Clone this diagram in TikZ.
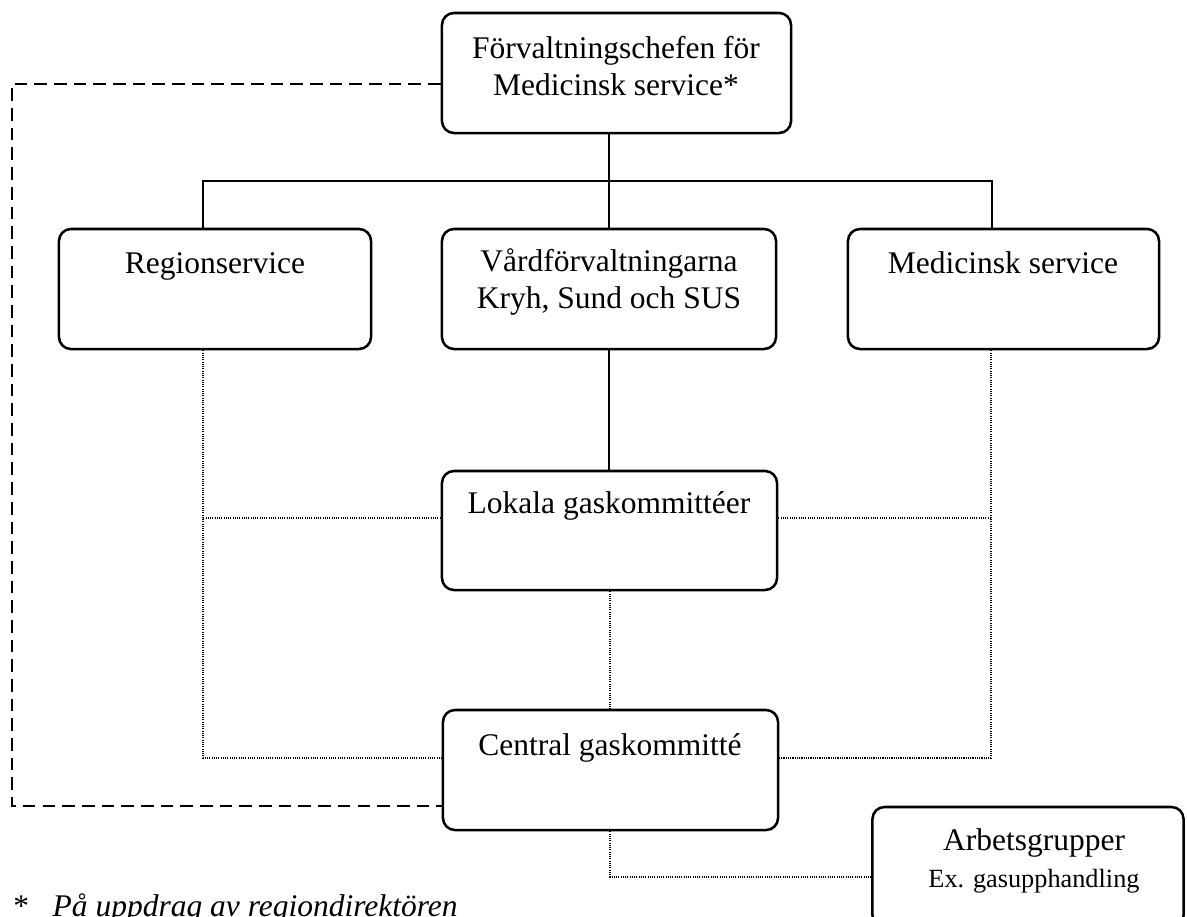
\documentclass[tikz,border=0pt]{standalone}
\usepackage{fontspec}
\setmainfont{Liberation Serif}
\usetikzlibrary{positioning,calc}
\tikzset{
  box/.style={draw, rounded corners=0.3cm, line width=1.8pt, minimum height=3cm, inner sep=0pt},
  lbl/.style={align=center, inner sep=0pt, font=\fontsize{22.4}{26.3}\selectfont},
  tie/.style={line width=1.7pt},
  dotline/.style={line width=1.2pt, dash pattern=on 0.8pt off 0.8pt},
  dashline/.style={line width=2pt, dash pattern=on 9pt off 5pt}
}

\begin{document}
\begin{tikzpicture}[x=0.025cm, y=-0.025cm]
  \useasboundingbox (0,0) rectangle (1187,916);
  \clip (0,0) rectangle (1187,916);
  \node[box, minimum width=8.725cm] (chef) at (616.5,73) {};
  \node[box, minimum width=7.8cm]   (reg)  at (215,289) {};
  \node[box, minimum width=8.35cm]  (vard) at (609,289) {};
  \node[box, minimum width=7.775cm] (med)  at (1003.5,289) {};
  \node[box, minimum width=8.375cm, minimum height=2.975cm] (lok) at (609.5,530.5) {};
  \node[box, minimum width=8.375cm] (cen)  at (610.5,770) {};
  \node[box, minimum width=7.775cm] (arb)  at (1028,867) {};
  \node[lbl] (chefT) at (616,66.5) {Förvaltningschefen för\\Medicinsk service*};
  \node[lbl, anchor=base] (regT) at (215,273) {Regionservice};
  \node[lbl] (vardT) at (609,282) {Vårdförvaltningarna\\Kryh, Sund och SUS};
  \node[lbl, anchor=base] (medT) at (1003,273) {Medicinsk service};
  \node[lbl, anchor=base] (lokT) at (609,513) {Lokala gaskommittéer};
  \node[lbl, anchor=base] (cenT) at (610,755) {Central gaskommitté};
  \node[lbl] (arbT)  at (1034,861) {Arbetsgrupper\\{\fontsize{18.7}{22}\selectfont Ex. gasupphandling}};
  \node[anchor=base west, inner sep=0pt, font=\fontsize{22.4}{26.3}\selectfont] (note) at (13,916)
    {*\hspace{0.75em}\textit{På uppdrag av regiondirektören}};
  \coordinate (jL) at (203,181);  \coordinate (jR) at (992,181);
  \coordinate (dL) at (203,758);  \coordinate (dR) at (991,758);
  \coordinate (lk) at (609,518);  \coordinate (dA) at (610,877);
  \coordinate (eT) at (12,84);    \coordinate (eB) at (12,806);
  \draw[tie] (chef.south -| vard.north) -- (vard.north);
  \draw[tie] (jL |- reg.north) -- (jL) -- (jR) -- (jR |- med.north);
  \draw[tie] (vard.south) -- (vard.south |- lok.north);
  \draw[dotline] (jL |- reg.south) -- (dL) -- (dL -| cen.west);
  \draw[dotline] (dR |- med.south) -- (dR) -- (dR -| cen.east);
  \draw[dotline] (lk -| lok.west) -- (lk -| jL);
  \draw[dotline] (lk -| lok.east) -- (lk -| dR);
  \draw[dotline] (dA |- lok.south) -- (dA |- cen.north);
  \draw[dotline] (dA |- cen.south) -- (dA) -- (dA -| arb.west);
  \draw[dashline] (eT -| chef.west) -- (eT) -- (eB) -- (eB -| cen.west);
\end{tikzpicture}
\end{document}
